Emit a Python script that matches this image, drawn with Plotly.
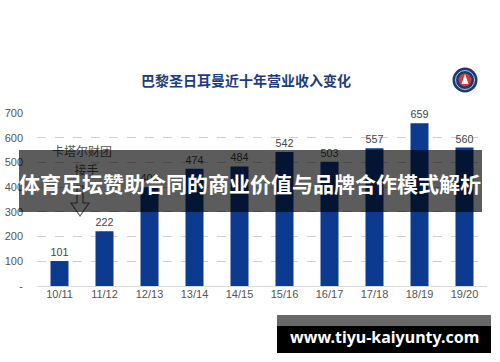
import plotly.graph_objects as go

seasons = ["10/11", "11/12", "12/13", "13/14", "14/15", "15/16", "16/17", "17/18", "18/19", "19/20"]
revenue = [101, 222, 400, 474, 484, 542, 503, 557, 659, 560]
y_ticks = [0, 100, 200, 300, 400, 500, 600, 700]
y_tick_text = ["-", "100", "200", "300", "400", "500", "600", "700"]
title_text = "巴黎圣日耳曼近十年营业收入变化"
note_lines = ["卡塔尔财团", "接手"]
note_pos = [0.5, 0.6]
note_vals = [540, 462]
banner_text = "体育足坛赞助合同的商业价值与品牌合作模式解析"
site_text = "www.tiyu-kaiyunty.com"

W, H = 500, 362
L, R, T, B = 37, 13, 113, 76
PW, PH = W - L - R, H - T - B


def fx(px):
    return (px - L) / PW


def fy(py):
    return (H - B - py) / PH


fig = go.Figure()
fig.add_trace(go.Bar(
    x=seasons, y=revenue, marker=dict(color="#0c3a8f", line=dict(width=0)),
    text=[str(v) for v in revenue], textposition="outside",
    textfont=dict(size=11, color="#444", family="Liberation Sans"),
    cliponaxis=False, width=0.4, hoverinfo="skip"))

# annotation text (under the overlay banner)
fig.add_trace(go.Scatter(
    x=note_pos, y=note_vals, mode="text", xaxis="x2",
    text=note_lines, textfont=dict(size=12, color="#555", family="Noto Sans CJK SC"),
    hoverinfo="skip", showlegend=False, cliponaxis=False))

shapes = []
# hollow down arrow
ax = 80
pts = [(ax - 3, 186), (ax + 3, 186), (ax + 3, 203), (ax + 9, 203), (ax, 216), (ax - 9, 203), (ax - 3, 203)]
path = "M " + " L ".join(f"{fx(x):.4f},{fy(y):.4f}" for x, y in pts) + " Z"
shapes.append(dict(type="path", xref="paper", yref="paper", path=path,
                   line=dict(color="#666", width=1.2), fillcolor="white", layer="above"))
# overlay banner
shapes.append(dict(type="rect", xref="paper", yref="paper", x0=fx(19), x1=fx(482), y0=fy(150), y1=fy(212),
                   fillcolor="rgba(0,0,0,0.64)", line=dict(width=0), layer="above"))
# bottom site banner
shapes.append(dict(type="rect", xref="paper", yref="paper", x0=fx(277), x1=fx(491), y0=fy(315), y1=fy(326),
                   fillcolor="#686868", line=dict(width=0), layer="above"))
shapes.append(dict(type="rect", xref="paper", yref="paper", x0=fx(277), x1=fx(491), y0=fy(326), y1=fy(353),
                   fillcolor="#000000", line=dict(width=0), layer="above"))
# logo
cx, cy = 465, 80


def circ(r, color, lw=0, lc=None):
    return dict(type="circle", xref="paper", yref="paper", x0=fx(cx - r), x1=fx(cx + r),
                y0=fy(cy + r), y1=fy(cy - r), fillcolor=color,
                line=dict(width=lw, color=lc or color), layer="above")


shapes.append(circ(12.5, "#1b3a70"))
shapes.append(circ(9.5, "#1b3a70", 0.8, "#dfe4ee"))
shapes.append(circ(6.5, "#d23a3f"))
tri = [(cx, cy - 6), (cx + 3.5, cy + 4), (cx - 3.5, cy + 4)]
shapes.append(dict(type="path", xref="paper", yref="paper",
                   path="M " + " L ".join(f"{fx(x):.4f},{fy(y):.4f}" for x, y in tri) + " Z",
                   fillcolor="white", line=dict(width=0), layer="above"))

annotations = [
    dict(text=f"<b>{title_text}</b>", x=fx(246), y=fy(80), xref="paper", yref="paper",
         xanchor="center", yanchor="middle",
         showarrow=False, font=dict(size=14, color="#1f3c7a", family="Noto Sans CJK SC")),
    dict(text=f"<b>{banner_text}</b>", x=fx(250), y=fy(183), xref="paper", yref="paper",
         xanchor="center", yanchor="middle",
         showarrow=False, font=dict(size=21, color="white", family="Noto Sans CJK SC")),
    dict(text=f"<b>{site_text}</b>", x=fx(384), y=fy(337), xref="paper", yref="paper",
         xanchor="center", yanchor="middle",
         showarrow=False, font=dict(size=16, color="white", family="Noto Sans")),
]

fig.update_layout(
    width=W, height=H, margin=dict(l=L, r=R, t=T, b=B, autoexpand=False),
    paper_bgcolor="white", plot_bgcolor="white", showlegend=False,
    bargap=0.6, shapes=shapes, annotations=annotations,
    xaxis=dict(type="category", showgrid=False, showline=False, ticks="",
               tickfont=dict(size=11, color="#555", family="Liberation Sans"),
               range=[-0.5, 9.5], fixedrange=True, automargin=False),
    xaxis2=dict(type="linear", overlaying="x", range=[-0.5, 9.5], visible=False, fixedrange=True),
    yaxis=dict(range=[0, 700], tickvals=y_ticks, ticktext=y_tick_text,
               showgrid=True, gridcolor="#d0d0d0", griddash="dash", gridwidth=1,
               zeroline=True, zerolinecolor="#d9d9d9", zerolinewidth=1,
               showline=False, ticks="", ticklabelstandoff=13, automargin=False,
               tickfont=dict(size=11, color="#555", family="Liberation Sans"), fixedrange=True),
)

fig.write_html("out.html")
